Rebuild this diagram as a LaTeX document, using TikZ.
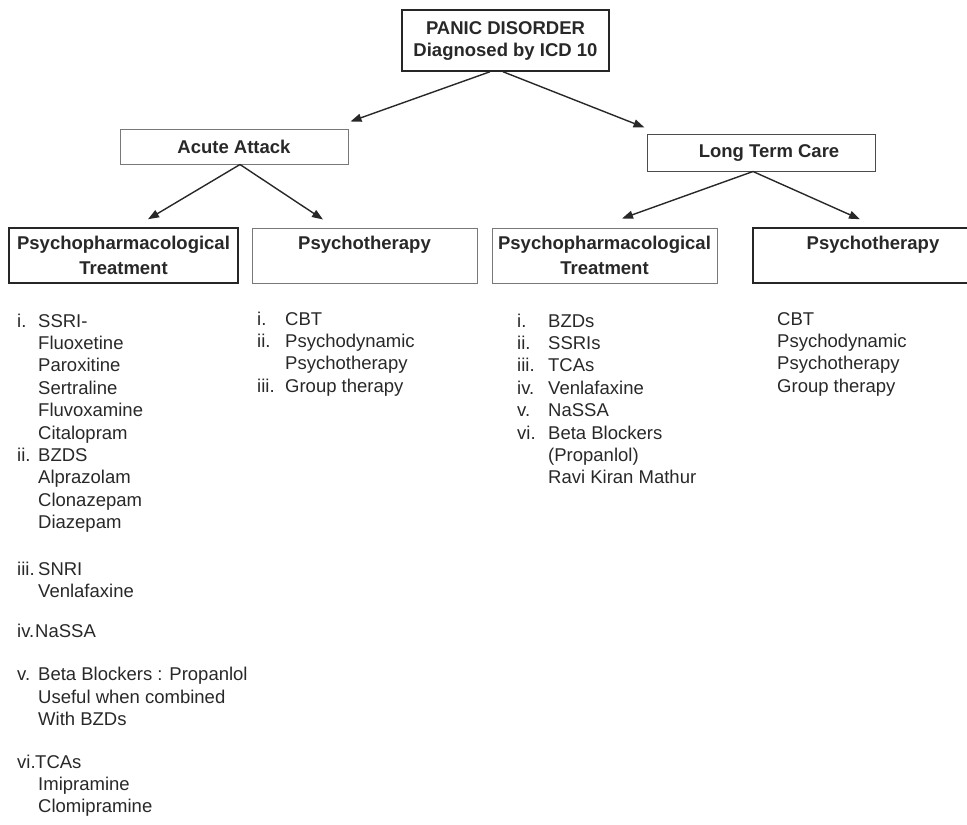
\documentclass[tikz,border=0pt]{standalone}
\usepackage{fontspec}
\setmainfont{Liberation Sans}
\usetikzlibrary{arrows.meta}
\definecolor{ink}{RGB}{40,40,40}
\definecolor{boxgray}{RGB}{120,120,120}
\newcommand\nm[2][21pt]{\makebox[#1][l]{#2}}
\begin{document}
\begin{tikzpicture}[x=1pt,y=-1pt,
  box/.style={draw=boxgray, line width=1pt, inner sep=0pt, align=center,
    font=\bfseries\fontsize{18.5}{22}\selectfont, text=ink},
  darkbox/.style={box, draw=black!85, line width=1.5pt},
  twoline/.style={font=\bfseries\fontsize{18.5}{25}\selectfont, minimum height=55pt},
  arr/.style={draw=ink, line width=1.4pt, -{Triangle[length=11pt,width=8pt]}},
  lst/.style={anchor=base west, inner sep=0pt, text=ink,
    font=\fontsize{18.5}{22.4}\selectfont}]
\useasboundingbox (0,0) rectangle (967,825);
\clip (0,0) rectangle (967,825);

% boxes
\node[darkbox, minimum width=207pt, minimum height=61pt] (top) at (505.5,40.5)
  {PANIC DISORDER\\Diagnosed by ICD 10};
\node[box, minimum width=228pt, minimum height=35pt] (acute) at (234,146.5) {Acute Attack};
\node[box, draw=black!70, minimum width=228pt, minimum height=37pt] (ltc) at (761,152.5)
  {\hspace*{16pt}Long Term Care};
\node[darkbox, twoline, minimum width=229pt] (ppa) at (123.5,255.5)
  {Psychopharmacological\\Treatment};
\node[box, twoline, minimum width=225pt] (psa) at (364.5,255.5)
  {Psychotherapy\\\mbox{}};
\node[box, twoline, minimum width=225pt] (ppl) at (604.5,255.5)
  {Psychopharmacological\\Treatment};
\node[darkbox, twoline, minimum width=240pt] (psl) at (873,255.5)
  {Psychotherapy\\\mbox{}};

% arrows
\draw[arr] ([xshift=-15.5pt]top.south) -- ([shift={(2pt,7pt)}]acute.north east);
\draw[arr] ([xshift=-2.5pt]top.south) -- ([shift={(-2pt,6pt)}]ltc.north west);
\draw[arr] ([xshift=6pt]acute.south) -- ([shift={(24.5pt,8pt)}]ppa.north);
\draw[arr] ([xshift=6pt]acute.south) -- ([shift={(-41.5pt,8pt)}]psa.north);
\draw[arr] ([xshift=-8pt]ltc.south) -- ([shift={(17.5pt,9pt)}]ppl.north);
\draw[arr] ([xshift=-8pt]ltc.south) -- ([shift={(-13pt,8pt)}]psl.north);

% lists
\node[lst] (listA) at (17,327) {\begin{tabular}[t]{@{}l@{}}
\nm{i.}SSRI-\\
\nm{}Fluoxetine\\
\nm{}Paroxitine\\
\nm{}Sertraline\\
\nm{}Fluvoxamine\\
\nm{}Citalopram\\
\nm{ii.}BZDS\\
\nm{}Alprazolam\\
\nm{}Clonazepam\\
\nm{}Diazepam\\[24pt]
\nm{iii.}SNRI\\
\nm{}Venlafaxine\\[18pt]
\nm[18pt]{iv.}NaSSA\\[20.6pt]
\nm{v.}Beta Blockers : Propanlol\\
\nm{}Useful when combined\\
\nm{}With BZDs\\[20pt]
\nm[18pt]{vi.}TCAs\\
\nm{}Imipramine\\
\nm{}Clomipramine
\end{tabular}};

\node[lst] (listB) at (257,325) {\begin{tabular}[t]{@{}l@{}}
\nm[28pt]{i.}CBT\\
\nm[28pt]{ii.}Psychodynamic\\
\nm[28pt]{}Psychotherapy\\
\nm[28pt]{iii.}Group therapy
\end{tabular}};

\node[lst] (listC) at (517,327) {\begin{tabular}[t]{@{}l@{}}
\nm[31pt]{i.}BZDs\\
\nm[31pt]{ii.}SSRIs\\
\nm[31pt]{iii.}TCAs\\
\nm[31pt]{iv.}Venlafaxine\\
\nm[31pt]{v.}NaSSA\\
\nm[31pt]{vi.}Beta Blockers\\
\nm[31pt]{}(Propanlol)\\
\nm[31pt]{}Ravi Kiran Mathur
\end{tabular}};

\node[lst] (listD) at (777,325) {\begin{tabular}[t]{@{}l@{}}
CBT\\
Psychodynamic\\
Psychotherapy\\
Group therapy
\end{tabular}};
\end{tikzpicture}
\end{document}
